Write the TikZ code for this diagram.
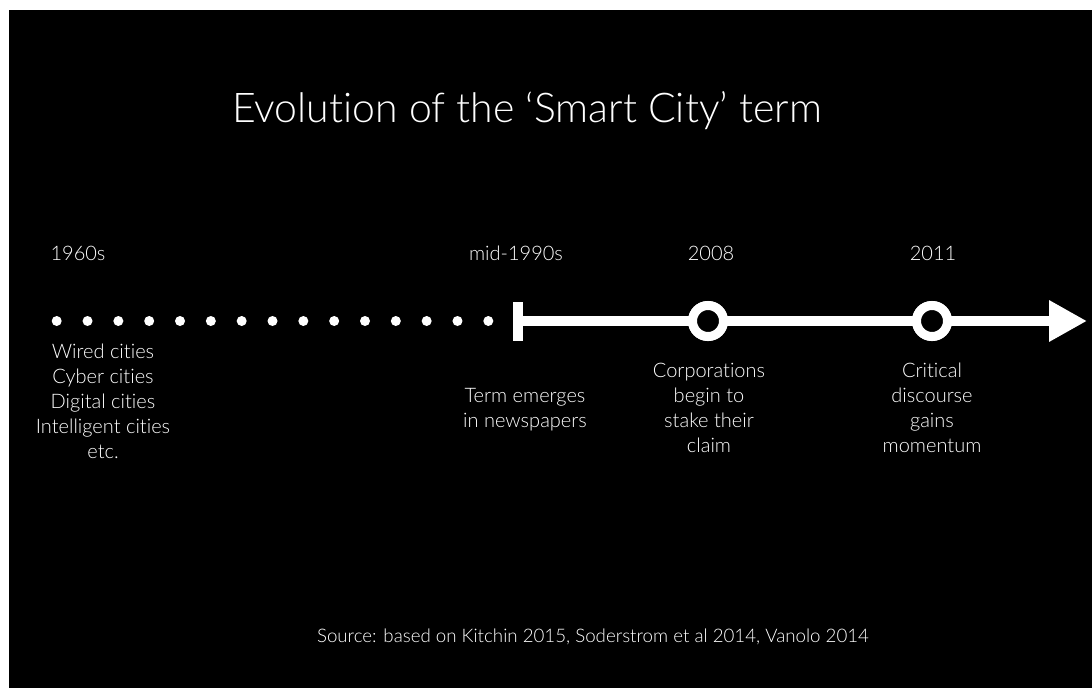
\documentclass[tikz,border=0pt]{standalone}
\usepackage{fontspec}
\setmainfont{Lato Light}[Ligatures={NoCommon}]
\usetikzlibrary{arrows.meta}
\begin{document}
\begin{tikzpicture}[x=1pt,y=-1pt,
  lbl/.style={text=white,font=\fontsize{20}{25}\selectfont,align=center,inner sep=0pt},
  dotnode/.style={circle,fill=white,minimum size=10pt,inner sep=0pt},
  ring/.style={circle,draw=white,line width=9pt,fill=black,minimum size=31pt,inner sep=0pt},
  barnode/.style={rectangle,fill=white,minimum width=10pt,minimum height=39pt,inner sep=0pt},
  axis/.style={draw=white,line width=10pt}]
\useasboundingbox (0,0) rectangle (1092,688);
\fill[white] (0,0) rectangle (1092,688);
\fill[black] (9,10) rectangle (1092,688);
\node[text=white,font=\fontsize{41}{48}\selectfont,inner sep=0pt,anchor=base] (title) at (527,122) {Evolution of the ‘Smart City’ term};
% dots
\foreach \i in {0,...,14} {
  \node[dotnode] (d\i) at ({56.7+30.83*\i},321) {};
}
\node[barnode] (bar) at (518,321) {};
\node[ring] (c1) at (708,321) {};
\node[ring] (c2) at (932,321) {};
\coordinate (tip) at (1087,321);
\path[axis] (bar.center) -- (c1.center);
\path[axis] (c1.center) -- (c2.center);
\path[axis,-{Triangle[length=38pt,width=39pt]}] (c2.center) -- (tip);
\node[ring] at (c1) {};
\node[ring] at (c2) {};
% years
\node[lbl,anchor=base] (y1) at (78,260) {1960s};
\node[lbl,anchor=base] (y2) at (516,260) {mid-1990s};
\node[lbl,anchor=base] (y3) at (711,260) {2008};
\node[lbl,anchor=base] (y4) at (933,260) {2011};
% descriptions (anchor = baseline of last line)
\node[lbl,anchor=base] (t1) at (103,458) {Wired cities\\Cyber cities\\Digital cities\\Intelligent cities\\etc.};
\node[lbl,anchor=base] (t2) at (525,427) {Term emerges\\in newspapers};
\node[lbl,anchor=base] (t3) at (709,452) {Corporations\\begin to\\stake their\\claim};
\node[lbl,anchor=base] (t4) at (932,452) {Critical\\discourse\\gains\\momentum};
\node[text=white,font=\fontsize{18.7}{22}\selectfont,inner sep=0pt,anchor=base] (src) at (593,642) {Source: based on Kitchin 2015, Soderstrom et al 2014, Vanolo 2014};
\end{tikzpicture}
\end{document}
